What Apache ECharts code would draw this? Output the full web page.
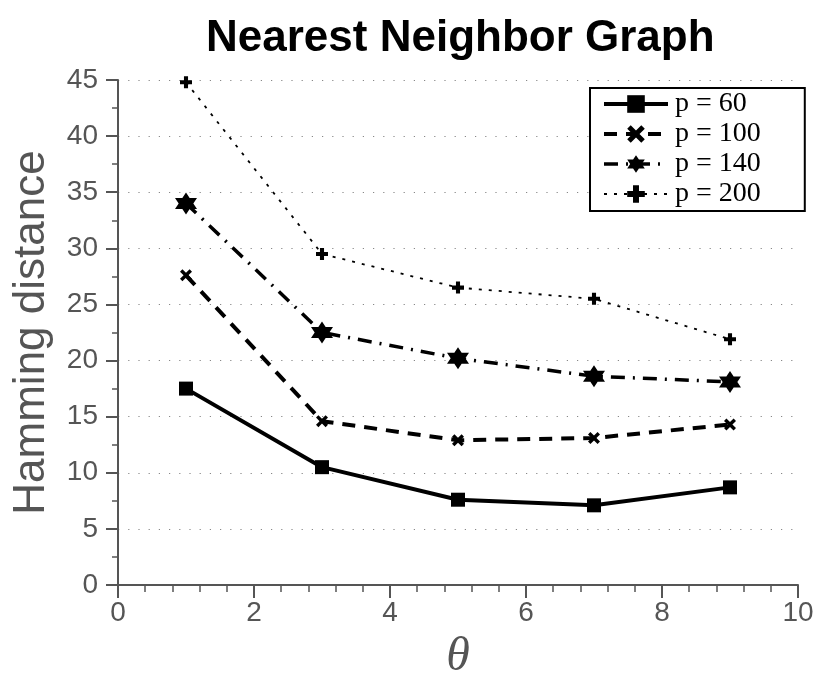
<!DOCTYPE html>
<html><head><meta charset="utf-8">
<script src="https://cdn.jsdelivr.net/npm/echarts@6/dist/echarts.min.js"></script>
<style>html,body{margin:0;padding:0;background:#fff}#c{width:830px;height:677px}</style>
</head><body><div id="c"></div>
<script>
const thetas = [1, 3, 5, 7, 9];
const p60 = [17.5, 10.5, 7.6, 7.1, 8.7];
const p100 = [27.6, 14.6, 12.9, 13.1, 14.3];
const p140 = [34.0, 22.5, 20.2, 18.6, 18.1];
const p200 = [44.8, 29.5, 26.5, 25.5, 21.9];
const seriesNames = ['p = 60', 'p = 100', 'p = 140', 'p = 200'];
const yTicks = [0, 5, 10, 15, 20, 25, 30, 35, 40, 45];
const xTicks = [0, 2, 4, 6, 8, 10];

const pair = arr => thetas.map((t, i) => [t, arr[i]]);
const sym = {
  x: 'path://M0,2 L2,0 L5,3 L8,0 L10,2 L7,5 L10,8 L8,10 L5,7 L2,10 L0,8 L3,5 Z',
  star: 'path://M5,0 L6.44,2.5 L9.33,2.5 L7.89,5 L9.33,7.5 L6.44,7.5 L5,10 L3.56,7.5 L0.67,7.5 L2.11,5 L0.67,2.5 L3.56,2.5 Z',
  plus: 'path://M3.3,0 L6.7,0 L6.7,3.3 L10,3.3 L10,6.7 L6.7,6.7 L6.7,10 L3.3,10 L3.3,6.7 L0,6.7 L0,3.3 L3.3,3.3 Z'
};
const lineW = [4, 4, 3.5, 1.8];
const axisGray = '#555';
const chart = echarts.init(document.getElementById('c'), null, {renderer: 'canvas'});
chart.setOption({
  animation: false,
  backgroundColor: '#fff',
  title: {
    text: 'Nearest Neighbor Graph', left: 201, top: 12,
    textStyle: {fontFamily: 'Liberation Sans', fontWeight: 'bold', fontSize: 44, color: '#000'}
  },
  grid: {left: 118, right: 32, top: 80, bottom: 92, outerBoundsMode: 'none', containLabel: false},
  legend: {
    orient: 'vertical', left: 590, top: 88,
    backgroundColor: '#fff', borderColor: '#000', borderWidth: 2,
    padding: [2, 44, 3, 12], itemGap: 2, itemWidth: 64, itemHeight: 22,
    textStyle: {fontFamily: 'Liberation Serif', fontSize: 28, lineHeight: 28, color: '#000', padding: [0, 0, 0, 2]},
    data: seriesNames.map((n, i) => ({name: n, lineStyle: {width: lineW[i]}}))
  },
  xAxis: {
    type: 'value', min: xTicks[0], max: xTicks[xTicks.length - 1], interval: 2,
    name: 'θ', nameLocation: 'middle', nameGap: 48,
    nameTextStyle: {fontFamily: 'Liberation Serif', fontStyle: 'italic', fontSize: 48, color: axisGray},
    axisLine: {onZero: false, lineStyle: {color: axisGray, width: 2}},
    axisTick: {length: 13, lineStyle: {color: axisGray, width: 2}},
    minorTick: {show: true, splitNumber: 5, length: 7, lineStyle: {color: axisGray, width: 1.5}},
    axisLabel: {fontFamily: 'Liberation Sans', fontSize: 28, color: axisGray, margin: 14},
    splitLine: {show: false}
  },
  yAxis: {
    type: 'value', min: yTicks[0], max: yTicks[yTicks.length - 1], interval: 5,
    name: 'Hamming distance', nameLocation: 'middle', nameGap: 64,
    nameTextStyle: {fontFamily: 'Liberation Sans', fontSize: 44, color: axisGray},
    axisLine: {show: true, lineStyle: {color: axisGray, width: 2}},
    axisTick: {show: true, length: 12, lineStyle: {color: axisGray, width: 2}},
    minorTick: {show: true, splitNumber: 2, length: 6, lineStyle: {color: axisGray, width: 1.5}},
    axisLabel: {fontFamily: 'Liberation Sans', fontSize: 28, color: axisGray, margin: 20},
    splitLine: {show: true, lineStyle: {color: '#888', width: 1.2, type: [1.2, 9]}}
  },
  series: [
    {name: seriesNames[0], type: 'line', data: pair(p60), symbol: 'rect', symbolSize: 14,
     itemStyle: {color: '#000'}, lineStyle: {color: '#000', width: lineW[0], type: 'solid'}},
    {name: seriesNames[1], type: 'line', data: pair(p100), symbol: sym.x, symbolSize: 12,
     itemStyle: {color: '#000'}, lineStyle: {color: '#000', width: lineW[1], type: [13, 9]}},
    {name: seriesNames[2], type: 'line', data: pair(p140), symbol: sym.star, symbolSize: 22,
     itemStyle: {color: '#000'}, lineStyle: {color: '#000', width: lineW[2], type: [14, 8, 2, 8]}},
    {name: seriesNames[3], type: 'line', data: pair(p200), symbol: sym.plus, symbolSize: 12,
     itemStyle: {color: '#000'}, lineStyle: {color: '#000', width: lineW[3], type: [3, 7]}}
  ]
});
</script></body></html>
